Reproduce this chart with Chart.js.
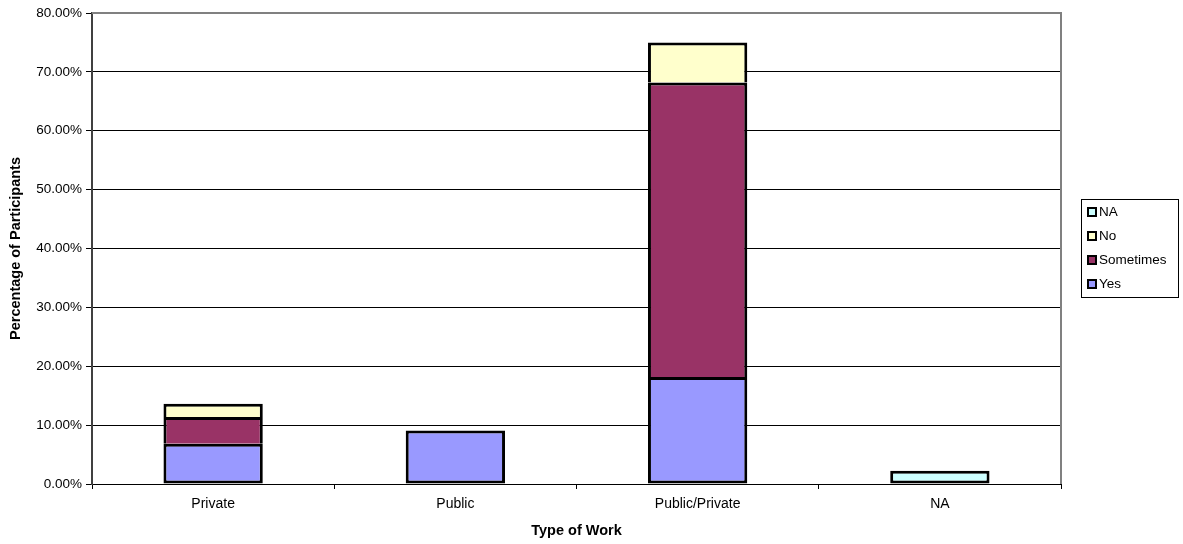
<!DOCTYPE html>
<html>
<head>
<meta charset="utf-8">
<script src="https://cdn.jsdelivr.net/npm/chart.js@4"></script>
<style>
  html, body { margin: 0; padding: 0; background: #fff; }
  #wrap { position: relative; width: 1183px; height: 544px; }
  #legend {
    position: absolute; left: 1081px; top: 199px; width: 96px; height: 97px;
    border: 1px solid #000; box-sizing: content-box;
    font-family: "Liberation Sans", Arial, sans-serif; font-size: 13.5px; color: #000;
  }
  .item { position: absolute; left: 5px; height: 16px; line-height: 16px; white-space: nowrap; }
  .sw { display: inline-block; width: 6px; height: 6px; border: 2px solid #000; vertical-align: -1px; margin-right: 2px; }
</style>
</head>
<body>
<div id="wrap">
  <canvas id="c" width="1183" height="544"></canvas>
  <div id="legend"></div>
</div>
<script>
// Type of work categories and share of participants (%) per answer
const categories = ["Private", "Public", "Public/Private", "NA"];
const yesValues = [6.82, 9.09, 18.18, null];
const sometimesValues = [4.55, null, 50.00, null];
const noValues = [2.27, null, 6.82, null];
const naValues = [null, null, null, 2.27];
const seriesNames = ["Yes", "Sometimes", "No", "NA"];
const seriesColors = ["#9999FF", "#993366", "#FFFFCC", "#CCFFFF"];
const yTickMax = 80;
const yTickStep = 10;

const FONT = "'Liberation Sans', Arial, sans-serif";

// Segments that sit on top of another one skip their lower edge,
// so a joint shows a single outline instead of a doubled one.
const seriesValues = [yesValues, sometimesValues, noValues, naValues];
const stackedOnTop = [false, true, true, false];
const datasets = seriesNames.map((name, i) => ({
  label: name,
  data: seriesValues[i],
  backgroundColor: seriesColors[i],
  borderColor: "#000",
  borderWidth: 3,
  borderSkipped: stackedOnTop[i] ? "start" : false,
  barPercentage: 0.41,
  categoryPercentage: 1.0
}));

// Grey plot-area frame on the top and right sides
const frame = {
  id: "frame",
  beforeDatasetsDraw(chart) {
    const a = chart.chartArea, ctx = chart.ctx;
    ctx.save();
    ctx.strokeStyle = "#808080";
    ctx.lineWidth = 2;
    ctx.beginPath();
    ctx.moveTo(a.left, a.top);
    ctx.lineTo(a.right, a.top);
    ctx.lineTo(a.right, a.bottom);
    ctx.stroke();
    ctx.restore();
  }
};

new Chart(document.getElementById("c"), {
  type: "bar",
  data: { labels: categories, datasets },
  plugins: [frame],
  options: {
    responsive: false,
    animation: false,
    layout: { padding: { left: 0, right: 122, top: 13, bottom: 0 } },
    plugins: { legend: { display: false }, tooltip: { enabled: false } },
    scales: {
      x: {
        stacked: true,
        afterFit: s => { s.height = 60; },
        grid: {
          offset: true,
          drawOnChartArea: false,
          drawTicks: true,
          tickLength: 5,
          color: "#000",
          lineWidth: 1
        },
        border: { color: "#000", width: 1 },
        ticks: { color: "#000", font: { family: FONT, size: 14 }, padding: 7, maxRotation: 0 },
        title: {
          display: true, text: "Type of Work", color: "#000",
          font: { family: FONT, size: 14.5, weight: "bold" },
          padding: { top: 2, bottom: 4 }
        }
      },
      y: {
        stacked: true,
        min: 0, max: yTickMax,
        afterFit: s => { s.width = 92; },
        grid: { color: "#000", lineWidth: 1, tickLength: 6, drawTicks: true },
        border: { color: "#404040", width: 2 },
        ticks: {
          stepSize: yTickStep, color: "#000", padding: 4,
          font: { family: FONT, size: 13.5 },
          callback: v => v.toFixed(2) + "%"
        },
        title: {
          display: true, text: "Percentage of Participants", color: "#000",
          font: { family: FONT, size: 14.5, weight: "bold" },
          padding: { top: 7, bottom: 0 }
        }
      }
    }
  }
});

// Legend box, listed top-down in reverse stacking order
const legend = document.getElementById("legend");
for (let i = seriesNames.length - 1, row = 0; i >= 0; i--, row++) {
  const item = document.createElement("div");
  item.className = "item";
  item.style.top = (4 + row * 24) + "px";
  const sw = document.createElement("span");
  sw.className = "sw";
  sw.style.background = seriesColors[i];
  item.appendChild(sw);
  item.appendChild(document.createTextNode(seriesNames[i]));
  legend.appendChild(item);
}
</script>
</body>
</html>
